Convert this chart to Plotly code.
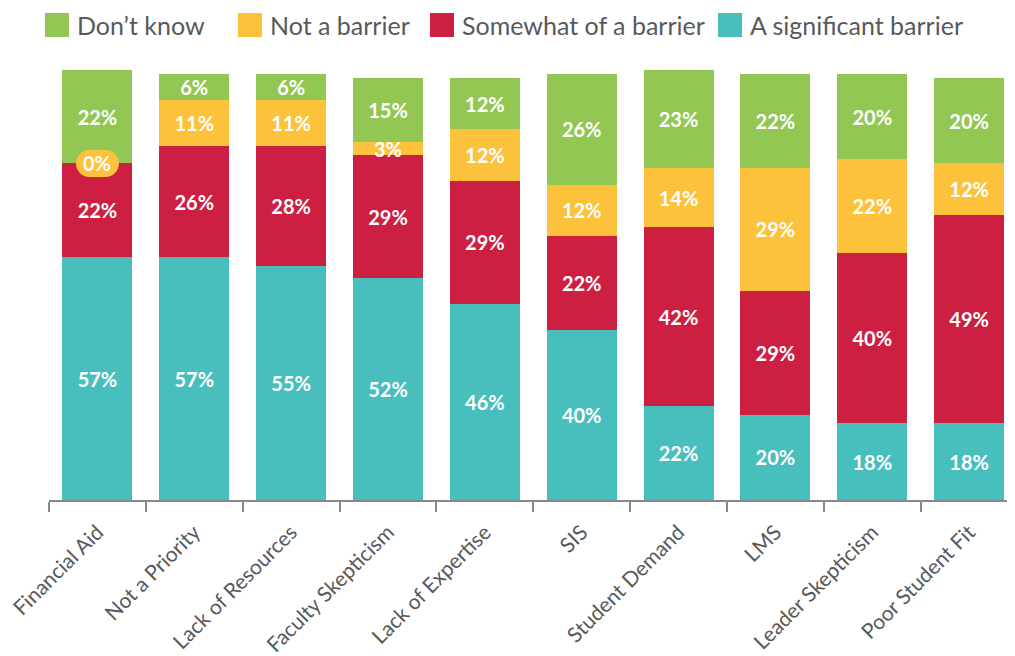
import plotly.graph_objects as go

categories = ["Financial Aid", "Not a Priority", "Lack of Resources", "Faculty Skepticism",
              "Lack of Expertise", "SIS", "Student Demand", "LMS", "Leader Skepticism",
              "Poor Student Fit"]
significant = [57, 57, 55, 52, 46, 40, 22, 20, 18, 18]
somewhat = [22, 26, 28, 29, 29, 22, 42, 29, 40, 49]
not_barrier = [0, 11, 11, 3, 12, 12, 14, 29, 22, 12]
dont_know = [22, 6, 6, 15, 12, 26, 23, 22, 20, 20]

series = [
    ("A significant barrier", significant, "#49BFBD"),
    ("Somewhat of a barrier", somewhat, "#CC1F42"),
    ("Not a barrier", not_barrier, "#FDC23C"),
    ("Don\u2019t know", dont_know, "#93C754"),
]

OFF = 8  # page body margin
W, H = 1015 - OFF, 656 - OFF
ML, MR, MT = 49 - OFF, 0, 60 - OFF
MB = 656 - 500
PW, PH = W - ML - MR, H - MT - MB
PX_PER_PCT = 4.26
YMAX = PH / PX_PER_PCT
CAT_W = 96.85
XMAX = -0.5 + PW / CAT_W

font_family = "Lato, 'Open Sans', sans-serif"
gray = "#58595B"

fig = go.Figure()
for name, vals, color in series:
    texts = [f"{v}%" if v > 0 else "" for v in vals]
    fig.add_trace(go.Bar(
        x=categories, y=vals, name=name, marker=dict(color=color, line=dict(width=0)),
        text=texts, textposition="inside", insidetextanchor="middle",
        constraintext="none",
        textfont=dict(color="white", size=20, family=font_family, weight="bold"),
        width=0.723, showlegend=False, hoverinfo="skip",
    ))

# zero-value label for "Not a barrier" on Financial Aid
i0 = [i for i, v in enumerate(not_barrier) if v == 0]
for i in i0:
    base = significant[i] + somewhat[i]
    fig.add_shape(type="path", xref="x", yref="y", xsizemode="pixel", ysizemode="pixel",
                  xanchor=categories[i], yanchor=base,
                  path=("M -8,-13.5 L 8,-13.5 C 15.5,-13.5 21.5,-7.5 21.5,0 "
                        "C 21.5,7.5 15.5,13.5 8,13.5 L -8,13.5 "
                        "C -15.5,13.5 -21.5,7.5 -21.5,0 C -21.5,-7.5 -15.5,-13.5 -8,-13.5 Z"),
                  fillcolor="#FDC23C", line=dict(width=0), layer="above")
    fig.add_annotation(x=categories[i], y=base, text=f"{not_barrier[i]}%", showarrow=False,
                       font=dict(color="white", size=20, family=font_family, weight="bold"),
                       xanchor="center", yanchor="middle")

# custom legend (positions given in window pixels)
def px_to_paper_x(px):
    return (px - OFF - ML) / PW

def px_to_paper_y(py):
    return (MT + PH - (py - OFF)) / PH

legend_items = [("Don\u2019t know", "#93C754", 45), ("Not a barrier", "#FDC23C", 238),
                ("Somewhat of a barrier", "#CC1F42", 430), ("A significant barrier", "#49BFBD", 718)]
for label, color, x0 in legend_items:
    fig.add_shape(type="rect", xref="paper", yref="paper",
                  x0=px_to_paper_x(x0), x1=px_to_paper_x(x0 + 24),
                  y0=px_to_paper_y(37), y1=px_to_paper_y(13),
                  fillcolor=color, line=dict(width=0))
    fig.add_annotation(xref="paper", yref="paper", x=px_to_paper_x(x0 + 30), y=px_to_paper_y(25),
                       text=label, showarrow=False, xanchor="left", yanchor="middle",
                       font=dict(size=25, color=gray, family=font_family))

fig.update_layout(
    barmode="stack",
    width=W, height=H,
    margin=dict(l=ML, r=MR, t=MT, b=MB, pad=0),
    plot_bgcolor="white", paper_bgcolor="white",
    showlegend=False,
    xaxis=dict(range=[-0.5, XMAX], tickson="boundaries", ticks="outside", ticklen=10,
               tickwidth=1.5, tickcolor="#888888", showline=True, linecolor="#888888",
               linewidth=1.5, tickangle=-45, ticklabelstandoff=10,
               tickfont=dict(size=21, color=gray, family=font_family), showgrid=False),
    yaxis=dict(range=[0, YMAX], visible=False, showgrid=False, zeroline=False),
)

fig.write_html("out.html")
